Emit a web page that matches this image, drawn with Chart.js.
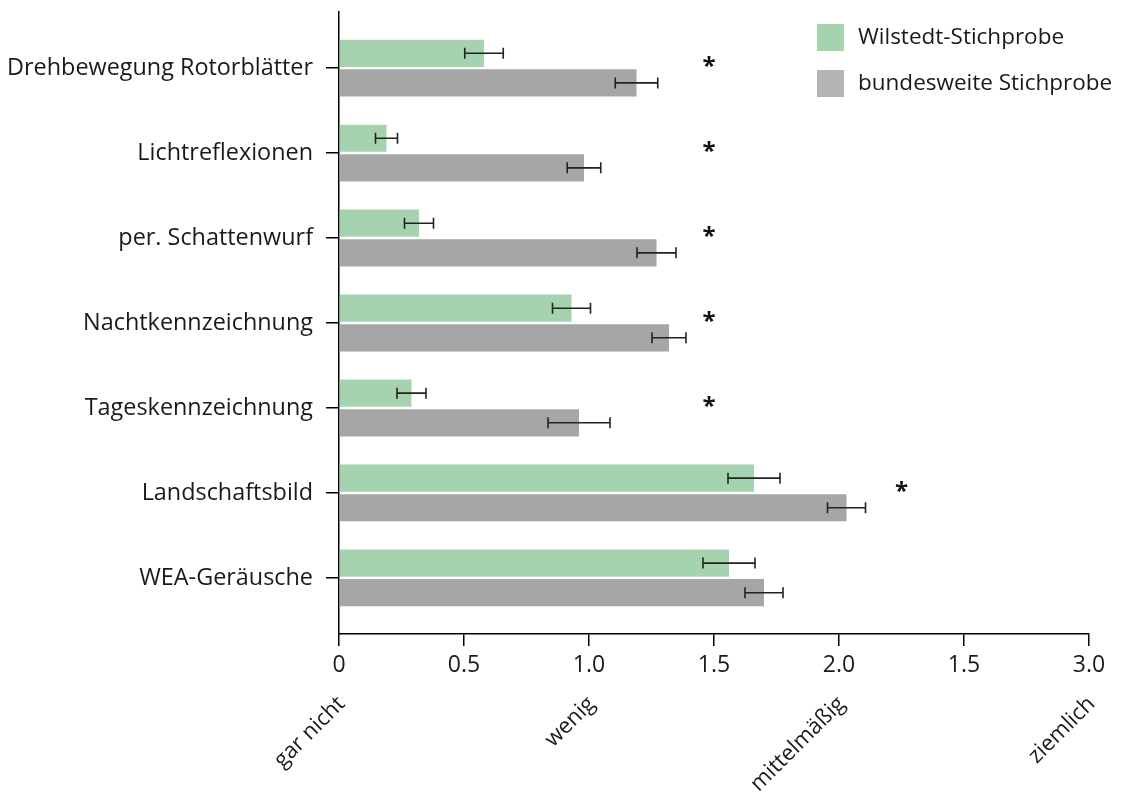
<!DOCTYPE html>
<html>
<head>
<meta charset="utf-8">
<script src="https://cdn.jsdelivr.net/npm/chart.js@4.4.0/dist/chart.umd.min.js"></script>
<style>
  html, body { margin: 0; padding: 0; background: #fff; }
  #wrap { width: 1124px; height: 792px; }
</style>
</head>
<body>
<div id="wrap"><canvas id="myChart" width="1124" height="792"></canvas></div>
<script>
const categories = [
  "Drehbewegung Rotorblätter",
  "Lichtreflexionen",
  "per. Schattenwurf",
  "Nachtkennzeichnung",
  "Tageskennzeichnung",
  "Landschaftsbild",
  "WEA-Geräusche",
];
const wilstedt = [0.58, 0.19, 0.32, 0.93, 0.29, 1.66, 1.56];
const wilstedtErr = [0.077, 0.044, 0.058, 0.076, 0.058, 0.104, 0.104];
const bundesweit = [1.19, 0.98, 1.27, 1.32, 0.96, 2.03, 1.70];
const bundesweitErr = [0.085, 0.067, 0.078, 0.068, 0.124, 0.076, 0.076];
// where the significance stars sit (x value), null = none
const starX = [1.48, 1.48, 1.48, 1.48, 1.48, 2.25, null];
const xTickLabels = ["0", "0.5", "1.0", "1.5", "2.0", "1.5", "3.0"];
const scaleWords = ["gar nicht", "wenig", "mittelmäßig", "ziemlich"];
const seriesNames = ["Wilstedt-Stichprobe", "bundesweite Stichprobe"];

const FONT = "'Open Sans', 'Noto Sans', sans-serif";
const green = "#a6d3af";
const grey = "#a6a6a6";
const legendColors = ["#a6d3af", "#b3b3b3"];

const errors = [wilstedtErr, bundesweitErr];

const extras = {
  id: "extras",
  afterDatasetsDraw(chart) {
    const ctx = chart.ctx;
    const xs = chart.scales.x;
    ctx.save();
    ctx.strokeStyle = "#222";
    ctx.lineWidth = 1.6;
    chart.data.datasets.forEach((ds, d) => {
      const meta = chart.getDatasetMeta(d);
      meta.data.forEach((bar, i) => {
        const v = ds.data[i].x;
        const e = errors[d][i];
        const x1 = xs.getPixelForValue(v - e);
        const x2 = xs.getPixelForValue(v + e);
        const y = bar.y;
        ctx.beginPath();
        ctx.moveTo(x1, y);
        ctx.lineTo(x2, y);
        ctx.moveTo(x1, y - 5.5);
        ctx.lineTo(x1, y + 5.5);
        ctx.moveTo(x2, y - 5.5);
        ctx.lineTo(x2, y + 5.5);
        ctx.stroke();
      });
    });
    ctx.restore();
  },
  afterDraw(chart) {
    const ctx = chart.ctx;
    const xs = chart.scales.x;
    const ys = chart.scales.y;
    ctx.save();

    // stars
    ctx.fillStyle = "#111";
    ctx.font = "bold 24px " + FONT;
    ctx.textAlign = "center";
    ctx.textBaseline = "middle";
    starX.forEach((s, i) => {
      if (s === null) return;
      ctx.fillText("*", xs.getPixelForValue(s), ys.getPixelForValue(i) - 1);
    });

    // legend
    ctx.font = "22.5px " + FONT;
    ctx.textAlign = "left";
    seriesNames.forEach((name, i) => {
      const top = 24 + i * 46;
      ctx.fillStyle = legendColors[i];
      ctx.fillRect(817, top, 27, 27);
      ctx.fillStyle = "#1a1a1a";
      ctx.fillText(name, 858, top + 14);
    });

    // rotated scale words under the axis
    ctx.font = "22px " + FONT;
    ctx.textAlign = "right";
    ctx.textBaseline = "alphabetic";
    scaleWords.forEach((w, i) => {
      ctx.save();
      ctx.translate(xs.getPixelForValue(i) + 7, 705);
      ctx.rotate(-Math.PI / 4);
      ctx.fillText(w, 0, 0);
      ctx.restore();
    });
    ctx.restore();
  },
};

new Chart(document.getElementById("myChart"), {
  type: "bar",
  data: {
    datasets: [
      {
        label: seriesNames[0],
        data: wilstedt.map((v, i) => ({ x: v, y: i })),
        backgroundColor: green,
        borderWidth: 0,
      },
      {
        label: seriesNames[1],
        data: bundesweit.map((v, i) => ({ x: v, y: i })),
        backgroundColor: grey,
        borderWidth: 0,
      },
    ],
  },
  options: {
    indexAxis: "y",
    responsive: false,
    animation: false,
    categoryPercentage: 0.697,
    barPercentage: 0.92,
    layout: { padding: { top: 12, right: 35, left: 0, bottom: 0 } },
    plugins: {
      legend: { display: false },
      tooltip: { enabled: false },
    },
    scales: {
      x: {
        type: "linear",
        min: 0,
        max: 3,
        afterFit: (s) => { s.height = 158; },
        border: { color: "#000", width: 1.5 },
        grid: { drawOnChartArea: false, tickLength: 12, color: "#000", lineWidth: 1.5 },
        ticks: {
          stepSize: 0.5,
          maxRotation: 0,
          padding: 6,
          color: "#1a1a1a",
          font: { family: FONT, size: 23 },
          callback: (v, i) => xTickLabels[i],
        },
      },
      y: {
        type: "linear",
        reverse: true,
        offset: false,
        min: -0.66,
        max: 6.66,
        afterFit: (s) => {
          s.width = 339;
          s.paddingTop = 0;
          s.paddingBottom = 0;
        },
        afterBuildTicks: (s) => {
          s.ticks = categories.map((c, i) => ({ value: i }));
        },
        border: { color: "#000", width: 1.5 },
        grid: { offset: false, drawOnChartArea: false, tickLength: 13, color: "#000", lineWidth: 1.5 },
        ticks: {
          autoSkip: false,
          padding: 13,
          color: "#1a1a1a",
          font: { family: FONT, size: 23.4 },
          callback: (v) => categories[v],
        },
      },
    },
  },
  plugins: [extras],
});
</script>
</body>
</html>
